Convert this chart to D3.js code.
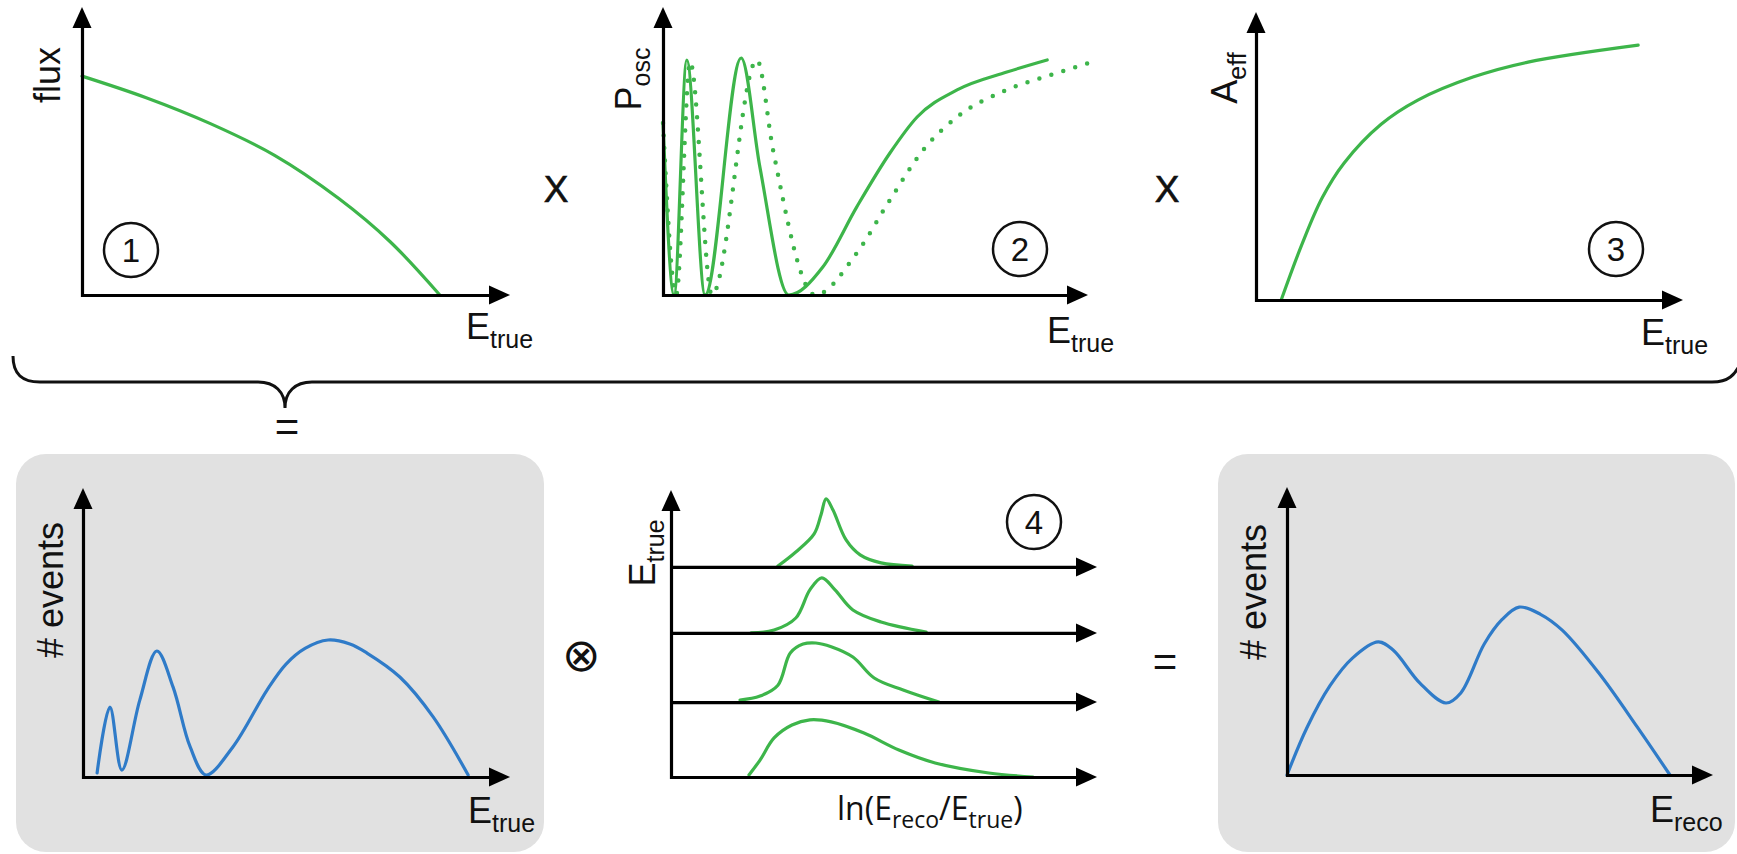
<!DOCTYPE html>
<html>
<head>
<meta charset="utf-8">
<script src="https://cdn.jsdelivr.net/npm/d3@7"></script>
<style>
  body { margin: 0; background: #fff; }
  svg { display: block; }
  .lbl { font-family: 'Liberation Sans', Arial, Helvetica, sans-serif; fill: #111; }
</style>
</head>
<body>
<svg id="chart" width="1737" height="854"></svg>
<script>
// Curves are given in axis units: x 0..100 from origin to arrow tip, y 0..100 from origin to arrow tip.

// (1) atmospheric flux vs E_true
const fluxCurve = [[0, 76], [15, 68.5], [30, 59.5], [45, 48.5], [60, 33.5], [72, 18.5], [83.6, 0]];

// (2) oscillation probability, solid and dotted (shifted) versions
const oscSolid = [[0, 59.7], [2.6, 0], [5.6, 81.6], [9.9, 0], [18.4, 82.3], [22.8, 44.4], [29.6, 0], [37.6, 9.7],
  [45.6, 30.6], [53.4, 49.3], [59.8, 61.8], [69.2, 71.2], [80.9, 77.4], [90.4, 81.6]];
const oscDotted = [[0, 59.7], [3.1, 0], [6.4, 80.9], [11.5, 0], [22.1, 81.6], [25.9, 50.3], [35.8, 0], [45.6, 14.6],
  [53.4, 33.0], [61.2, 50.3], [69.2, 61.8], [80.9, 71.2], [92.7, 77.1], [102.4, 81.6]];

// (3) effective area
const aeffCurve = [[5.9, 0], [10.8, 19.5], [15.5, 35.5], [20.6, 47.5], [29.3, 61.0], [37.9, 69.4], [50.8, 77.4], [63.7, 82.6], [89.5, 88.5]];

// product: events vs E_true
const eventsTrueCurve = [[3.3, 1.4], [6.3, 24.2], [9.1, 2.4], [13.3, 26.6], [17.3, 43.6], [21.1, 31.1], [25.1, 10.4],
  [28.8, 0.7], [35.1, 10.4], [43.1, 30.1], [47.5, 39.0], [52.0, 44.5], [57.4, 47.4], [62.5, 46.0], [66.5, 42.9],
  [74.2, 34.6], [82.0, 20.8], [90.2, 0.7]];

// (4) resolution functions: one row per E_true slice (baseline, then [x, height above baseline])
const smearBaselines = [73.2, 50.2, 26.1, 0];
const smearCurves = [
  [[25.1, 0.3], [29.3, 5.2], [33.6, 11.5], [35.2, 18.1], [36.4, 23.7], [38.0, 19.9], [41.1, 9.4], [44.4, 4.2], [49.3, 1.4], [56.6, 0.3]],
  [[18.8, 0], [24.2, 1.0], [29.3, 5.2], [32.6, 15.0], [35.4, 19.2], [38.5, 15.0], [42.7, 8.0], [49.3, 3.8], [59.9, 0.3]],
  [[16.2, 0.7], [20.9, 2.1], [25.1, 5.9], [28.0, 17.1], [31.0, 20.2], [34.0, 20.6], [37.6, 19.3], [42.7, 15.7], [47.7, 8.4], [54.5, 4.2], [62.9, 0]],
  [[18.3, 0.7], [20.9, 5.9], [24.2, 13.6], [28.4, 18.1], [32.6, 19.9], [37.6, 19.2], [45.3, 15.3], [53.5, 9.4], [62.0, 4.9], [74.6, 1.4], [85.0, 0]],
];

// result: events vs E_reco
const eventsRecoCurve = [[0, 0], [4.7, 16.5], [10.1, 31.0], [15.3, 40.5], [21.4, 46.2], [24.9, 43.4], [31.2, 31.9], [37.3, 25.0],
  [40.8, 28.5], [46.3, 45.5], [50.5, 54.0], [54.5, 58.3], [59.5, 55.8], [64.6, 50.3], [73.2, 35.4], [82.2, 16.7], [89.9, 0]];

const stepLabels = ['1', '2', '3', '4'];

const green = '#3db54a';
const blue = '#2f7bc8';

const svg = d3.select('#chart');

// grey boxes behind the event-count panels
svg.append('rect').attr('x', 16).attr('y', 454).attr('width', 528).attr('height', 398).attr('rx', 30).attr('fill', '#e1e1e1');
svg.append('rect').attr('x', 1218).attr('y', 454).attr('width', 517).attr('height', 398).attr('rx', 30).attr('fill', '#e1e1e1');

// builds the pair of scales for one panel
function panelScales(ox, oy, xTip, yTip) {
  return {
    x: d3.scaleLinear().domain([0, 100]).range([ox, xTip]),
    y: d3.scaleLinear().domain([0, 100]).range([oy, yTip]),
  };
}

// horizontal axis with an arrowhead at its end
function arrowX(x, yPix) {
  const [x0, x1] = x.range();
  const g = svg.append('g').attr('transform', `translate(0,${yPix})`)
    .call(d3.axisBottom(x.copy().range([x0 - 1.5, x1 - 12])).tickValues([]).tickSizeOuter(0));
  g.select('.domain').attr('stroke', '#000').attr('stroke-width', 3.2);
  svg.append('path')
    .attr('d', `M${x1},${yPix}L${x1 - 21},${yPix - 9.5}L${x1 - 21},${yPix + 9.5}Z`)
    .attr('fill', '#000');
}

// vertical axis with an arrowhead at its top
function arrowY(y, xPix) {
  const [y0, y1] = y.range();
  const g = svg.append('g').attr('transform', `translate(${xPix},0)`)
    .call(d3.axisLeft(y.copy().range([y0 + 1.5, y1 + 12])).tickValues([]).tickSizeOuter(0));
  g.select('.domain').attr('stroke', '#000').attr('stroke-width', 3.2);
  svg.append('path')
    .attr('d', `M${xPix},${y1}L${xPix - 9.5},${y1 + 21}L${xPix + 9.5},${y1 + 21}Z`)
    .attr('fill', '#000');
}

function curve(s, data, color, opts = {}) {
  const line = d3.line()
    .x((d) => s.x(d[0]))
    .y((d) => s.y(d[1]))
    .curve(opts.monotone ? d3.curveMonotoneX : d3.curveCatmullRom.alpha(0.5));
  const p = svg.append('path')
    .attr('d', line(data))
    .attr('fill', 'none')
    .attr('stroke', color)
    .attr('stroke-width', opts.dotted ? 4.5 : 3.2)
    .attr('stroke-linecap', 'round');
  if (opts.dotted) p.attr('stroke-dasharray', '0 12.5');
}

// label with a subscript; rotated labels read bottom to top
function subLabel(x, y, main, sub, rotate, anchor) {
  const t = svg.append('text').attr('class', 'lbl')
    .attr('transform', `translate(${x},${y})${rotate ? ' rotate(-90)' : ''}`)
    .attr('text-anchor', anchor || 'start')
    .style('font-size', '36px');
  t.append('tspan').text(main);
  if (sub) t.append('tspan').attr('dy', 9).style('font-size', '25px').text(sub);
}

function stepMark(cx, cy, label) {
  svg.append('circle').attr('cx', cx).attr('cy', cy).attr('r', 27)
    .attr('fill', 'none').attr('stroke', '#111').attr('stroke-width', 2.5);
  svg.append('text').attr('class', 'lbl').attr('x', cx).attr('y', cy + 12)
    .attr('text-anchor', 'middle').style('font-size', '33px').text(label);
}

// ---- top row ----
const p1 = panelScales(82, 295, 510, 7);
curve(p1, fluxCurve, green);
arrowX(p1.x, 295);
arrowY(p1.y, 82);
subLabel(60, 75, 'flux', null, true, 'middle');
subLabel(466, 339, 'E', 'true');
stepMark(131, 250, stepLabels[0]);

const p2 = panelScales(663, 295, 1088, 7);
curve(p2, oscDotted, green, { monotone: true, dotted: true });
curve(p2, oscSolid, green, { monotone: true });
arrowX(p2.x, 295);
arrowY(p2.y, 663);
subLabel(641, 79, 'P', 'osc', true, 'middle');
subLabel(1047, 343, 'E', 'true');
stepMark(1020, 249, stepLabels[1]);

const p3 = panelScales(1256, 300, 1683, 12);
curve(p3, aeffCurve, green);
arrowX(p3.x, 300);
arrowY(p3.y, 1256);
subLabel(1237, 78, 'A', 'eff', true, 'middle');
subLabel(1641, 345, 'E', 'true');
stepMark(1616, 249, stepLabels[2]);

// multiplication signs
[556, 1167].forEach((x) => {
  svg.append('text').attr('class', 'lbl').attr('x', x).attr('y', 202)
    .attr('text-anchor', 'middle').style('font-size', '37px').style('stroke', '#111').style('stroke-width', 0.6)
    .text('X');
});

// curly brace gathering the top row
svg.append('path')
  .attr('d', 'M13,356 C13,374 22,382 40,382 H258 C275,382 285,392 285,408 C285,392 295,382 312,382 H1712 C1728,382 1735,376 1742,360')
  .attr('fill', 'none').attr('stroke', '#111').attr('stroke-width', 3);
svg.append('text').attr('class', 'lbl').attr('x', 287).attr('y', 441)
  .attr('text-anchor', 'middle').style('font-size', '42px').text('=');

// ---- bottom row ----
const p4 = panelScales(83, 777, 510, 488);
curve(p4, eventsTrueCurve, blue);
arrowX(p4.x, 777);
arrowY(p4.y, 83);
subLabel(63, 590, '# events', null, true, 'middle');
subLabel(468, 823, 'E', 'true');

svg.append('text').attr('x', 581).attr('y', 671).attr('text-anchor', 'middle')
  .style('font-family', "'DejaVu Sans ExtraLight', 'DejaVu Sans', sans-serif").style('font-weight', 200)
  .style('font-size', '46px').attr('fill', '#111').text('⊗');

const p5 = panelScales(671, 777, 1097, 490);
smearCurves.forEach((rows, i) => {
  const base = smearBaselines[i];
  curve(p5, rows.map((d) => [d[0], base + d[1]]), green);
});
smearBaselines.forEach((b) => arrowX(p5.x, p5.y(b)));
arrowY(p5.y, 671);
subLabel(655, 553, 'E', 'true', true, 'middle');
stepMark(1034, 522, stepLabels[3]);

const ln = svg.append('text').attr('x', 837).attr('y', 820)
  .style('font-family', "'Open Sans', sans-serif").style('font-size', '32px').attr('fill', '#111');
ln.append('tspan').text('ln(E');
ln.append('tspan').attr('dy', 8).style('font-size', '23px').text('reco');
ln.append('tspan').attr('dy', -8).text('/E');
ln.append('tspan').attr('dy', 8).style('font-size', '23px').text('true');
ln.append('tspan').attr('dy', -8).text(')');

svg.append('text').attr('class', 'lbl').attr('x', 1165).attr('y', 676)
  .attr('text-anchor', 'middle').style('font-size', '42px').text('=');

const p6 = panelScales(1287, 775, 1713, 487);
curve(p6, eventsRecoCurve, blue);
arrowX(p6.x, 775);
arrowY(p6.y, 1287);
subLabel(1266, 592, '# events', null, true, 'middle');
subLabel(1650, 822, 'E', 'reco');
</script>
</body>
</html>
